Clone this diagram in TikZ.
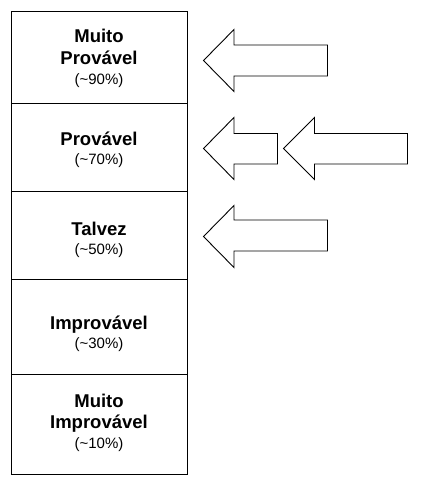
\documentclass[tikz,border=0pt]{standalone}
\usepackage{fontspec}
\setmainfont{Liberation Sans}
\begin{document}
\begin{tikzpicture}[x=1pt,y=-1pt,line width=0.9pt,
  cell/.style={draw=black,anchor=north west,minimum width=176pt,inner sep=0pt},
  title/.style={anchor=base,inner sep=0pt,font=\fontsize{18.5}{21}\selectfont\bfseries},
  pct/.style={anchor=base,inner sep=0pt,font=\fontsize{15}{18}\selectfont},
  bigarrow/.style={draw=black,fill=white,line join=miter}]
  \useasboundingbox (0,0) rectangle (421,484);
  % probability scale
  \node[cell,minimum height=92pt]  (c90) at (11,11) {};
  \node[cell,minimum height=88pt]  (c70) at (11,103) {};
  \node[cell,minimum height=88pt]  (c50) at (11,191) {};
  \node[cell,minimum height=95pt]  (c30) at (11,279) {};
  \node[cell,minimum height=100pt] (c10) at (11,374) {};
  % cell labels
  \node[title] (t90a) at (99,42.7) {Muito};
  \node[title] (t90b) at (99,64.3) {Provável};
  \node[pct]   (p90)  at (99,84.5) {(\textasciitilde90\%)};
  \node[title] (t70)  at (99,145)  {Provável};
  \node[pct]   (p70)  at (99,164.5) {(\textasciitilde70\%)};
  \node[title] (t50)  at (99,235)  {Talvez};
  \node[pct]   (p50)  at (99,254.5) {(\textasciitilde50\%)};
  \node[title] (t30)  at (99,329.3) {Improvável};
  \node[pct]   (p30)  at (99,348.7) {(\textasciitilde30\%)};
  \node[title] (t10a) at (99,407.7) {Muito};
  \node[title] (t10b) at (99,428.3) {Improvável};
  \node[pct]   (p10)  at (99,448.3) {(\textasciitilde10\%)};
  % block arrows pointing at the scale
  \draw[bigarrow] (203.5,60.5) -- (234,29.5) -- (234,45) -- (327.5,45) -- (327.5,76) -- (234,76) -- (234,91.5) -- cycle;
  \draw[bigarrow] (203.5,148.5) -- (234,117.5) -- (234,133.5) -- (277.5,133.5) -- (277.5,164) -- (234,164) -- (234,179.5) -- cycle;
  \draw[bigarrow] (283.5,148.5) -- (314.5,117.5) -- (314.5,133.5) -- (407.5,133.5) -- (407.5,164) -- (314.5,164) -- (314.5,179.5) -- cycle;
  \draw[bigarrow] (203.5,236.5) -- (234,205.5) -- (234,220) -- (327.5,220) -- (327.5,251) -- (234,251) -- (234,267.5) -- cycle;
\end{tikzpicture}
\end{document}
